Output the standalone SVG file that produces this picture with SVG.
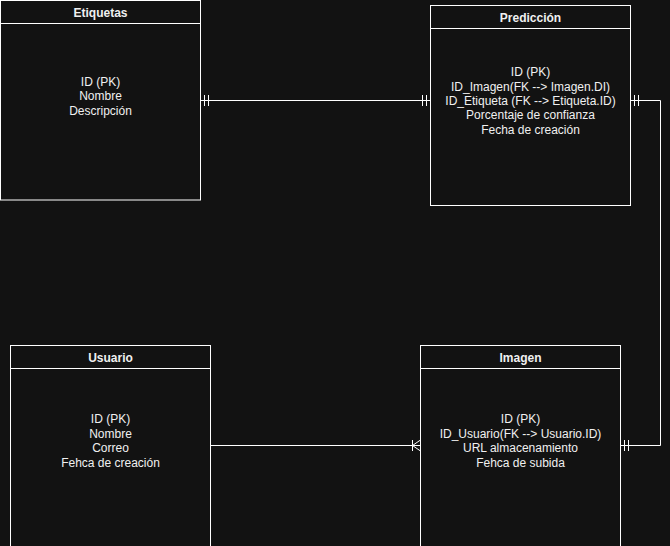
<svg xmlns="http://www.w3.org/2000/svg" width="670" height="546" viewBox="0 0 670 546">
<style>
.box{fill:#121212;stroke:#ffffff;stroke-width:1}
.ln{fill:none;stroke:#ffffff;stroke-width:1}
.t{font-family:"Liberation Sans",Arial,sans-serif;font-size:12px;fill:#f0f0f0;text-anchor:middle}
.h{font-weight:bold}
</style>
<rect width="670" height="546" fill="#121212"/>
<g id="connectors">
  <path class="ln" d="M200.5 100.5 H430.5"/>
  <path class="ln" d="M204.5 95 V106 M208.5 95 V106 M422.5 95 V106 M426.5 95 V106"/>
  <path class="ln" d="M630.5 100.5 H660.5 V445.5 H620.5"/>
  <path class="ln" d="M634.5 95 V106 M638.5 95 V106 M624.5 440 V451 M628.5 440 V451"/>
  <path class="ln" d="M210.5 445.5 H420.5"/>
  <path class="ln" d="M412.5 440 V451 M412.5 445.5 L420.5 440 M412.5 445.5 L420.5 451"/>
</g>
<g id="etiquetas">
  <rect class="box" x="0.5" y="0.5" width="200" height="199.5"/>
  <path class="ln" d="M0.5 23.5 H200.5"/>
  <text class="t h" x="100.5" y="17">Etiquetas</text>
  <text class="t" x="100.5" y="86">ID (PK)</text>
  <text class="t" x="100.5" y="100">Nombre</text>
  <text class="t" x="100.5" y="115">Descripción</text>
</g>
<g id="prediccion">
  <rect class="box" x="430.5" y="5.5" width="200" height="200"/>
  <path class="ln" d="M430.5 28.5 H630.5"/>
  <text class="t h" x="530.5" y="22">Predicción</text>
  <text class="t" x="530.5" y="76">ID (PK)</text>
  <text class="t" x="530.5" y="91">ID_Imagen(FK --&gt; Imagen.DI)</text>
  <text class="t" x="530.5" y="105">ID_Etiqueta (FK --&gt; Etiqueta.ID)</text>
  <text class="t" x="530.5" y="119">Porcentaje de confianza</text>
  <text class="t" x="530.5" y="134">Fecha de creación</text>
</g>
<g id="usuario">
  <rect class="box" x="10.5" y="345.5" width="200" height="205"/>
  <path class="ln" d="M10.5 368.5 H210.5"/>
  <text class="t h" x="110.5" y="362">Usuario</text>
  <text class="t" x="110.5" y="423">ID (PK)</text>
  <text class="t" x="110.5" y="438">Nombre</text>
  <text class="t" x="110.5" y="452">Correo</text>
  <text class="t" x="110.5" y="467">Fehca de creación</text>
</g>
<g id="imagen">
  <rect class="box" x="420.5" y="345.5" width="200" height="205"/>
  <path class="ln" d="M420.5 368.5 H620.5"/>
  <text class="t h" x="520.5" y="362">Imagen</text>
  <text class="t" x="520.5" y="423">ID (PK)</text>
  <text class="t" x="520.5" y="438">ID_Usuario(FK --&gt; Usuario.ID)</text>
  <text class="t" x="520.5" y="452">URL almacenamiento</text>
  <text class="t" x="520.5" y="467">Fehca de subida</text>
</g>
</svg>
